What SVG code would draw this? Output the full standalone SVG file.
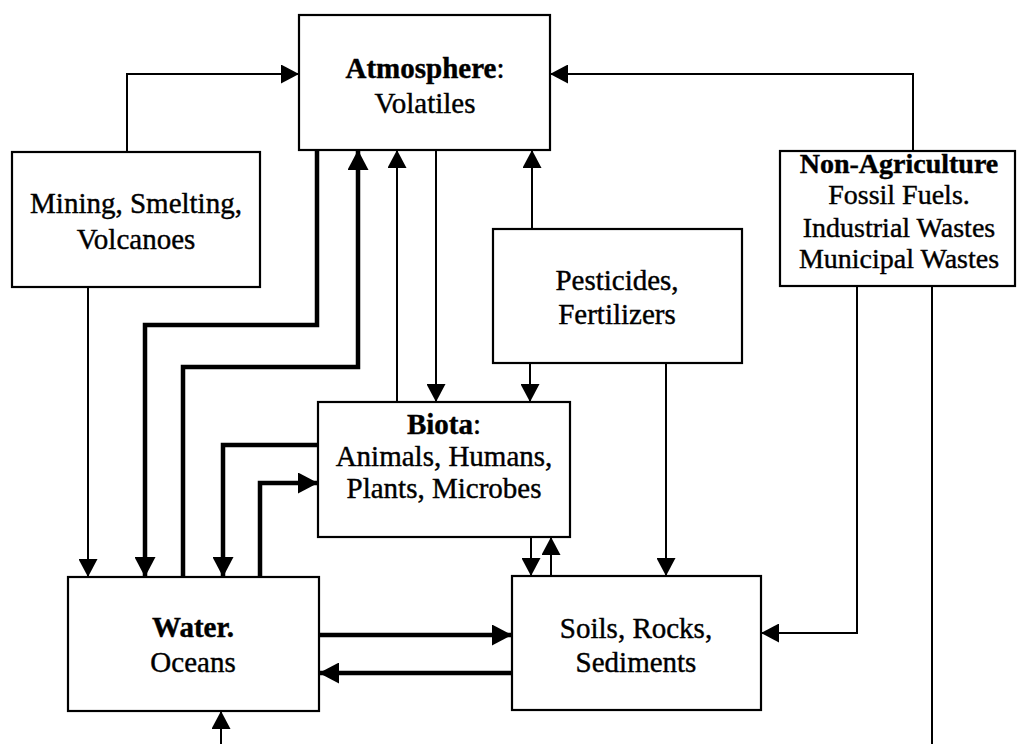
<svg xmlns="http://www.w3.org/2000/svg" width="1018" height="744" viewBox="0 0 1018 744">
<style>
  .box { fill: #fff; stroke: #000; stroke-width: 2.2; }
  .t { font-family: "Liberation Serif", "Times New Roman", serif; font-size: 29px; fill: #000; stroke: #000; stroke-width: 0.4; text-anchor: middle; }
  .b { font-weight: bold; }
  .thin { fill: none; stroke: #000; stroke-width: 2; }
  .thick { fill: none; stroke: #000; stroke-width: 4.5; }
</style>
<defs>
  <marker id="ah" markerUnits="userSpaceOnUse" markerWidth="19" markerHeight="19" refX="18" refY="9.5" orient="auto">
    <path d="M0,0 L18,9.5 L0,19 z" fill="#000"/>
  </marker>
  <marker id="ahb" markerUnits="userSpaceOnUse" markerWidth="21" markerHeight="21" refX="20" refY="10.5" orient="auto">
    <path d="M0,0 L20,10.5 L0,21 z" fill="#000"/>
  </marker>
</defs>
<rect width="1018" height="744" fill="#fff"/>

<g id="connectors">
  <path class="thin" d="M127,152 V74 H299" marker-end="url(#ah)"/>
  <path class="thin" d="M913,151 V74 H550" marker-end="url(#ah)"/>
  <path class="thin" d="M88,287 V577" marker-end="url(#ah)"/>
  <path class="thick" d="M317,150 V325 H145 V577" marker-end="url(#ahb)"/>
  <path class="thick" d="M183,577 V367 H358 V150" marker-end="url(#ahb)"/>
  <path class="thin" d="M397,402 V150" marker-end="url(#ah)"/>
  <path class="thin" d="M436,150 V402" marker-end="url(#ah)"/>
  <path class="thin" d="M532,229 V150" marker-end="url(#ah)"/>
  <path class="thin" d="M530,363 V402" marker-end="url(#ah)"/>
  <path class="thin" d="M666,363 V576" marker-end="url(#ah)"/>
  <path class="thick" d="M318,445 H223 V577" marker-end="url(#ahb)"/>
  <path class="thick" d="M260,577 V483 H318" marker-end="url(#ahb)"/>
  <path class="thin" d="M531,537 V576" marker-end="url(#ah)"/>
  <path class="thin" d="M551,576 V537" marker-end="url(#ah)"/>
  <path class="thick" d="M319,635 H512" marker-end="url(#ahb)"/>
  <path class="thick" d="M512,673 H319" marker-end="url(#ahb)"/>
  <path class="thin" d="M857,286 V633 H761" marker-end="url(#ah)"/>
  <path class="thin" d="M932,286 V744"/>
  <path class="thin" d="M221,744 V711" marker-end="url(#ah)"/>
</g>

<g id="atmosphere">
  <rect class="box" x="299" y="15" width="251" height="135"/>
  <text class="t" x="425" y="78"><tspan class="b">Atmosphere</tspan>:</text>
  <text class="t" x="425" y="113">Volatiles</text>
</g>

<g id="mining">
  <rect class="box" x="12" y="152" width="248" height="135"/>
  <text class="t" x="136" y="213">Mining, Smelting,</text>
  <text class="t" x="136" y="249">Volcanoes</text>
</g>

<g id="nonagriculture">
  <rect class="box" x="780" y="151" width="235" height="135"/>
  <text class="t b" x="899" y="173" style="font-size:28px">Non-Agriculture</text>
  <text class="t" x="899" y="204" style="font-size:28px">Fossil Fuels.</text>
  <text class="t" x="899" y="237" style="font-size:28px">Industrial Wastes</text>
  <text class="t" x="899" y="268" style="font-size:28px">Municipal Wastes</text>
</g>

<g id="pesticides">
  <rect class="box" x="493" y="229" width="249" height="134"/>
  <text class="t" x="617" y="290">Pesticides,</text>
  <text class="t" x="617" y="324">Fertilizers</text>
</g>

<g id="biota">
  <rect class="box" x="318" y="402" width="252" height="135"/>
  <text class="t" x="444" y="434"><tspan class="b">Biota</tspan>:</text>
  <text class="t" x="444" y="466">Animals, Humans,</text>
  <text class="t" x="444" y="498">Plants, Microbes</text>
</g>

<g id="water">
  <rect class="box" x="68" y="577" width="251" height="134"/>
  <text class="t b" x="193" y="637">Water.</text>
  <text class="t" x="193" y="672">Oceans</text>
</g>

<g id="soils">
  <rect class="box" x="512" y="576" width="249" height="134"/>
  <text class="t" x="636" y="638">Soils, Rocks,</text>
  <text class="t" x="636" y="672">Sediments</text>
</g>
</svg>
